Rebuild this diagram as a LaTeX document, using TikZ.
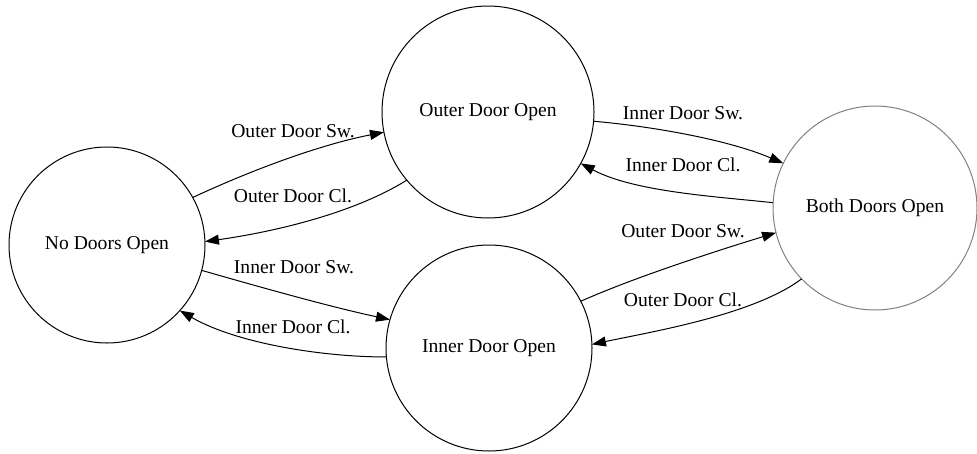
\documentclass[tikz,border=0pt]{standalone}
\usepackage{fontspec}
\setmainfont{Liberation Serif}
\usetikzlibrary{arrows.meta}
\begin{document}
\begin{tikzpicture}[x=1pt,y=-1pt,
  state/.style={circle,draw=black,line width=1pt,inner sep=0pt,outer sep=0pt,
    font=\fontsize{19.6}{23}\selectfont},
  trans/.style={line width=1pt,-{Triangle[length=14pt,width=10pt]}},
  lbl/.style={font=\fontsize{19.6}{23}\selectfont,inner sep=0pt}]
\useasboundingbox (0,0) rectangle (977,453);

% states
\node[state,minimum size=196pt] (N) at (107,245) {No Doors Open};
\node[state,minimum size=212pt] (O) at (488,112) {Outer Door Open};
\node[state,minimum size=206pt] (I) at (489,348) {Inner Door Open};
\node[state,minimum size=204pt,draw=black!50] (B) at (875,208) {Both Doors Open};

% transitions
\draw[trans] (N.29)  .. controls +(25:65pt)  and +(191:65pt) .. (O.191);
\draw[trans] (O.220) .. controls +(212:65pt) and +(8:65pt)   .. (N.2);
\draw[trans] (N.345) .. controls +(-16:60pt) and +(168:60pt) .. (I.164);
\draw[trans] (I.185) .. controls +(180:65pt) and +(330:65pt) .. (N.318);
\draw[trans] (O.355) .. controls +(-5:60pt)  and +(157:60pt) .. (B.154);
\draw[trans] (B.177) .. controls +(174:60pt) and +(332:60pt) .. (O.331);
\draw[trans] (I.27)  .. controls +(24:60pt)  and +(197:60pt) .. (B.194);
\draw[trans] (B.224) .. controls +(217:60pt) and +(12:60pt)  .. (I.2);

% transition labels
\node[lbl] (l1) at (293,131) {Outer Door Sw.};
\node[lbl] (l2) at (293,196) {Outer Door Cl.};
\node[lbl] (l3) at (294,267) {Inner Door Sw.};
\node[lbl] (l4) at (293,327) {Inner Door Cl.};
\node[lbl] (l5) at (683,113) {Inner Door Sw.};
\node[lbl] (l6) at (683,165) {Inner Door Cl.};
\node[lbl] (l7) at (683,231) {Outer Door Sw.};
\node[lbl] (l8) at (683,300) {Outer Door Cl.};
\end{tikzpicture}
\end{document}
